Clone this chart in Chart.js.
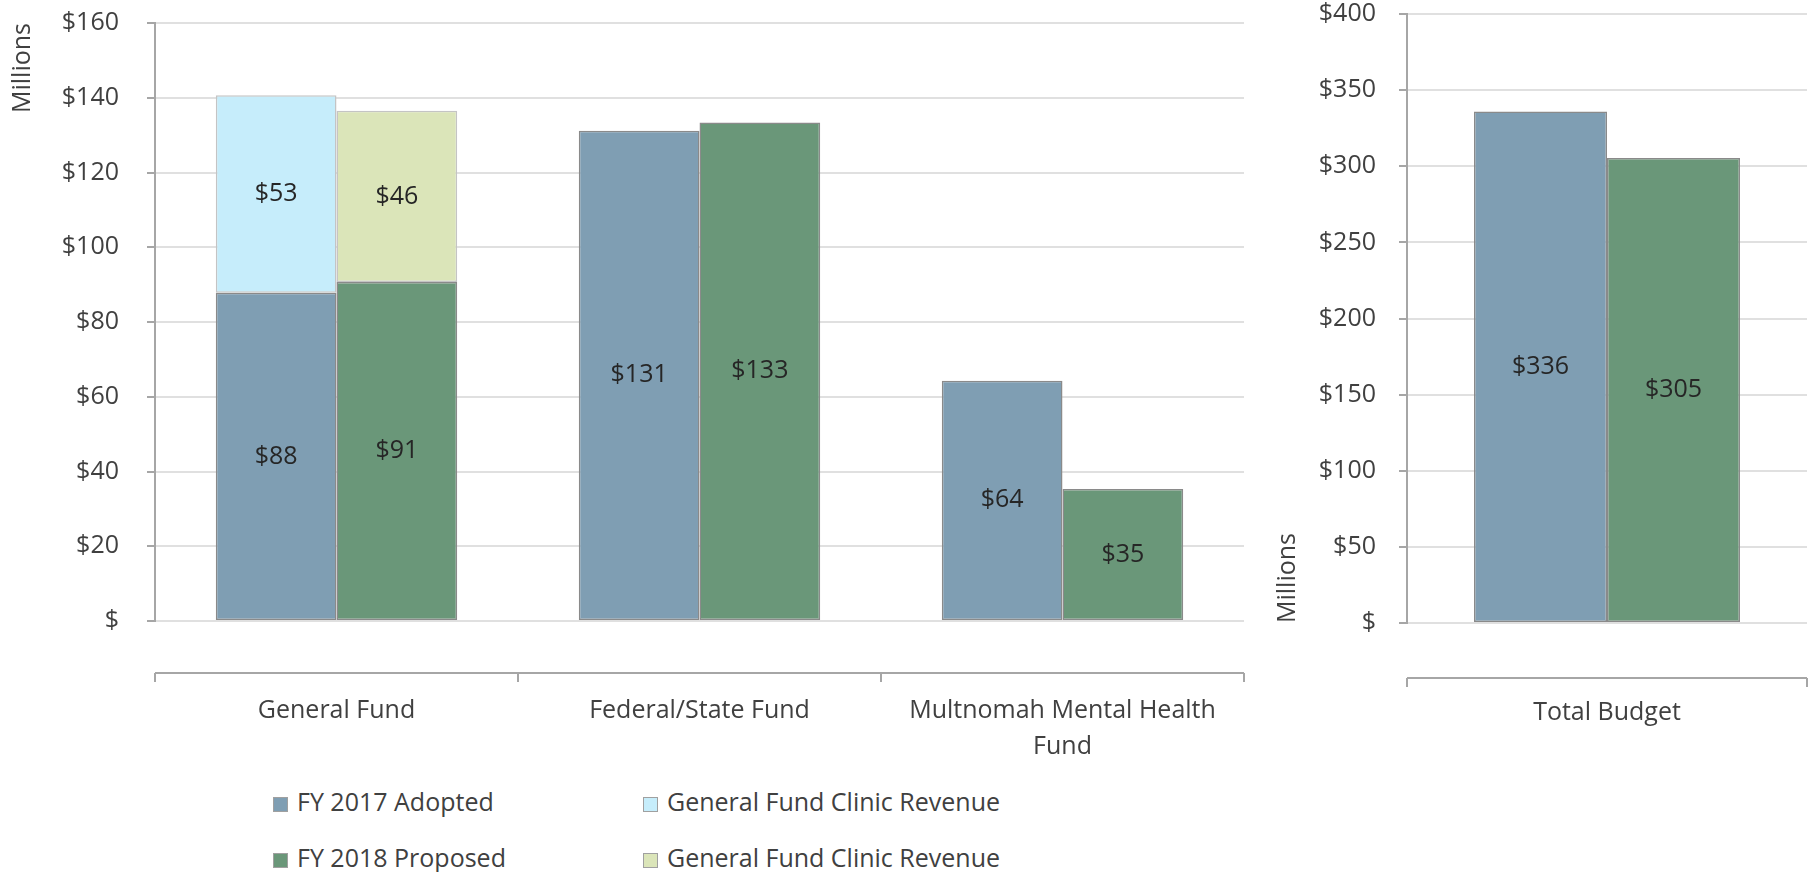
<!DOCTYPE html>
<html>
<head>
<meta charset="utf-8">
<script src="https://cdn.jsdelivr.net/npm/chart.js@4"></script>
<style>
  body { margin: 0; background: #fff; width: 1814px; height: 872px; position: relative; overflow: hidden; font-family: "Open Sans", sans-serif; }
  #fundsWrap { position: absolute; left: 0; top: 0; width: 1260px; height: 780px; }
  #totalWrap { position: absolute; left: 1250px; top: 0; width: 564px; height: 780px; }
  #legend { position: absolute; left: 273px; top: 780px; }
  .item { position: absolute; white-space: nowrap; font-size: 25px; color: #404040; line-height: 30px; }
  .item span.box { display: inline-block; width: 15px; height: 15px; margin-right: 9px; vertical-align: -1px; box-sizing: border-box; border: 1px solid #a0a0a0; }
</style>
</head>
<body>
<div id="fundsWrap"><canvas id="funds"></canvas></div>
<div id="totalWrap"><canvas id="total"></canvas></div>
<div id="legend"></div>
<script>
// values in millions of dollars
const fundLabels = ["General Fund", "Federal/State Fund", ["Multnomah Mental Health", "Fund"]];
const adopted2017 = [87.8, 131.2, 64.3];
const clinic2017 = [52.9, null, null];
const proposed2018 = [90.7, 133.4, 35.3];
const clinic2018 = [45.8, null, null];

const totalLabels = ["Total Budget"];
const totalAdopted = [336];
const totalProposed = [305.4];

const fundTicks = [0, 20, 40, 60, 80, 100, 120, 140, 160];
const totalTicks = [0, 50, 100, 150, 200, 250, 300, 350, 400];

const BLUE = '#7f9eb3';
const GREEN = '#6a9779';
const LIGHT_BLUE = '#c6edfb';
const LIGHT_GREEN = '#dbe5b9';
const FONT = '"Open Sans", sans-serif';

const money = v => v === 0 ? '$' : '$' + v;

// value labels centred in every bar segment
const barLabels = {
  id: 'barLabels',
  afterDatasetsDraw(chart) {
    const ctx = chart.ctx;
    ctx.save();
    ctx.font = '25px ' + FONT;
    ctx.fillStyle = '#262626';
    ctx.textAlign = 'center';
    ctx.textBaseline = 'middle';
    chart.data.datasets.forEach((ds, i) => {
      chart.getDatasetMeta(i).data.forEach((bar, j) => {
        const v = ds.data[j];
        if (v == null) return;
        const p = bar.getCenterPoint();
        ctx.fillText('$' + Math.round(v), p.x, p.y);
      });
    });
    ctx.restore();
  }
};

// excel style category axis line sitting below the plot
const catAxis = {
  id: 'catAxis',
  afterDraw(chart, args, opts) {
    const ctx = chart.ctx;
    const xs = chart.scales.x;
    const area = chart.chartArea;
    const y = area.bottom + opts.gap;
    ctx.save();
    ctx.strokeStyle = '#a6a6a6';
    ctx.lineWidth = 2;
    ctx.beginPath();
    ctx.moveTo(area.left, y);
    ctx.lineTo(area.right, y);
    for (let i = 0; i <= chart.data.labels.length; i++) {
      const x = Math.round(xs.getPixelForValue(i - 0.5));
      ctx.moveTo(x, y);
      ctx.lineTo(x, y + 9);
    }
    ctx.stroke();
    ctx.restore();
  }
};

// tick padding would otherwise leak into the chart area margins
function noPadding(s) {
  s.paddingTop = 0;
  s.paddingBottom = 0;
  s.paddingLeft = 0;
  s.paddingRight = 0;
}

function yScale(max, ticks, pad, titleAlign, titlePad, axisWidth) {
  return {
    stacked: true,
    min: 0,
    max: max,
    afterBuildTicks: s => { s.ticks = ticks.map(v => ({ value: v })); },
    afterFit: s => { s.width = axisWidth; noPadding(s); },
    border: { color: '#a6a6a6', width: 2 },
    grid: { color: '#e0e0e0', lineWidth: 2, tickColor: '#a6a6a6', tickLength: 8 },
    ticks: { callback: money, padding: pad, color: '#404040', font: { family: FONT, size: 25, lineHeight: 1 } },
    title: { display: true, text: 'Millions', align: titleAlign, color: '#404040', padding: { top: titlePad, bottom: 0 }, font: { family: FONT, size: 25 } }
  };
}

function xScale(axisHeight) {
  return {
    stacked: true,
    afterFit: s => { s.height = axisHeight; noPadding(s); },
    border: { display: false },
    grid: { display: false, drawTicks: false },
    ticks: { padding: 72, maxRotation: 0, autoSkip: false, color: '#404040', font: { family: FONT, size: 25, lineHeight: 1.44 } }
  };
}

const fundsChart = new Chart(document.getElementById('funds'), {
  type: 'bar',
  data: {
    labels: fundLabels,
    datasets: [
      { label: 'FY 2017 Adopted', data: adopted2017, stack: 'fy17', backgroundColor: BLUE, borderColor: '#8a8a8a' },
      { label: 'FY 2018 Proposed', data: proposed2018, stack: 'fy18', backgroundColor: GREEN, borderColor: '#8a8a8a' },
      { label: 'General Fund Clinic Revenue', data: clinic2017, stack: 'fy17', backgroundColor: LIGHT_BLUE, borderColor: '#c4c4c4' },
      { label: 'General Fund Clinic Revenue', data: clinic2018, stack: 'fy18', backgroundColor: LIGHT_GREEN, borderColor: '#c4c4c4' },
    ],
  },
  options: {
    responsive: true,
    maintainAspectRatio: false,
    animation: false,
    layout: { padding: { left: 0, top: 23, right: 16, bottom: 0 } },
    datasets: { bar: { categoryPercentage: 0.665, barPercentage: 1, borderWidth: 1.5, borderSkipped: false } },
    scales: {
      x: xScale(780 - 621),
      y: yScale(160, fundTicks, 28, 'end', 8, 155),
    },
    plugins: { legend: { display: false }, tooltip: { enabled: false }, catAxis: { gap: 52 } },
  },
  plugins: [barLabels, catAxis],
});

const totalChart = new Chart(document.getElementById('total'), {
  type: 'bar',
  data: {
    labels: totalLabels,
    datasets: [
      { label: 'FY 2017 Adopted', data: totalAdopted, backgroundColor: BLUE, borderColor: '#8a8a8a' },
      { label: 'FY 2018 Proposed', data: totalProposed, backgroundColor: GREEN, borderColor: '#8a8a8a' },
    ],
  },
  options: {
    responsive: true,
    maintainAspectRatio: false,
    animation: false,
    layout: { padding: { left: 0, top: 14, right: 7, bottom: 0 } },
    datasets: { bar: { categoryPercentage: 0.665, barPercentage: 1, borderWidth: 1.5, borderSkipped: false } },
    scales: {
      x: Object.assign(xScale(780 - 623), { stacked: false }),
      y: Object.assign(yScale(400, totalTicks, 23, 'start', 23, 157), { stacked: false }),
    },
    plugins: { legend: { display: false }, tooltip: { enabled: false }, catAxis: { gap: 55 } },
  },
  plugins: [barLabels, catAxis],
});

// legend laid out as a 2 x 2 grid like the original
const legendEl = document.getElementById('legend');
const spots = [[0, 6], [0, 62], [370, 6], [370, 62]];
fundsChart.data.datasets.forEach((ds, i) => {
  const div = document.createElement('div');
  div.className = 'item';
  div.style.left = spots[i][0] + 'px';
  div.style.top = spots[i][1] + 'px';
  const box = document.createElement('span');
  box.className = 'box';
  box.style.background = ds.backgroundColor;
  div.appendChild(box);
  div.appendChild(document.createTextNode(ds.label));
  legendEl.appendChild(div);
});
</script>
</body>
</html>
